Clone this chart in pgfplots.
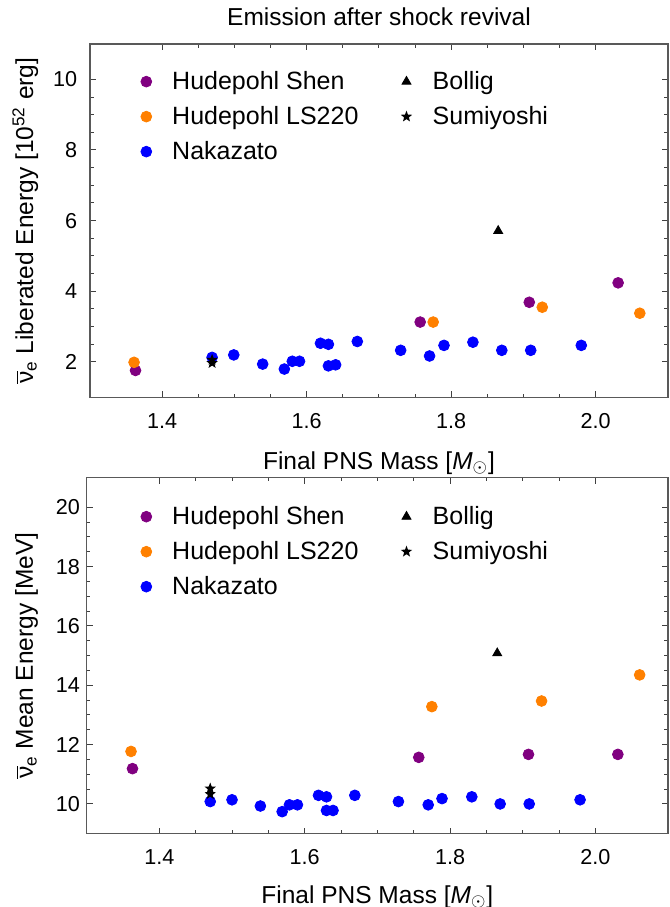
\documentclass[border=0pt]{standalone}
\usepackage{pgfplots}
\pgfplotsset{compat=1.18}
\usepackage{fontspec}
\setmainfont{Liberation Sans}

\definecolor{mmaPurple}{rgb}{0.5,0,0.5}
\definecolor{mmaOrange}{rgb}{1,0.5,0}
\definecolor{mmaBlue}{rgb}{0,0,1}

% filled five-pointed star
\pgfdeclareplotmark{fstar}{%
  \pgfpathmoveto{\pgfpointpolar{90}{\pgfplotmarksize}}%
  \pgfpathlineto{\pgfpointpolar{126}{0.42*\pgfplotmarksize}}%
  \pgfpathlineto{\pgfpointpolar{162}{\pgfplotmarksize}}%
  \pgfpathlineto{\pgfpointpolar{198}{0.42*\pgfplotmarksize}}%
  \pgfpathlineto{\pgfpointpolar{234}{\pgfplotmarksize}}%
  \pgfpathlineto{\pgfpointpolar{270}{0.42*\pgfplotmarksize}}%
  \pgfpathlineto{\pgfpointpolar{306}{\pgfplotmarksize}}%
  \pgfpathlineto{\pgfpointpolar{342}{0.42*\pgfplotmarksize}}%
  \pgfpathlineto{\pgfpointpolar{18}{\pgfplotmarksize}}%
  \pgfpathlineto{\pgfpointpolar{54}{0.42*\pgfplotmarksize}}%
  \pgfpathclose
  \pgfusepathqfill}

\pgfplotsset{
  panel/.style={
    scale only axis,
    xmin=1.3, xmax=2.1,
    xtick={1.4,1.6,1.8,2.0},
    xticklabels={1.4,1.6,1.8,2.0},
    minor x tick num=3, minor y tick num=3,
    tick align=inside,
    major tick length=3pt, minor tick length=1.8pt,
    every tick/.style={black!75, line width=0.5pt},
    axis line style={black!65, line width=0.75pt},
    /pgf/number format/assume math mode=true,
    tick label style={font=\fontsize{10.8}{12}\selectfont},
    xticklabel style={anchor=base, inner sep=0pt, yshift=-15.5pt},
    label style={font=\fontsize{12.25}{14}\selectfont},
    title style={font=\fontsize{12.25}{14}\selectfont},
    legend columns=2,
    legend image code/.code={\draw[##1] plot coordinates {(0pt,3.9pt)};},
    legend style={draw=none, fill=none, inner sep=0pt,
      font=\fontsize{12.5}{15}\selectfont,
      cells={anchor=base west},
      nodes={inner sep=0pt, text height=9pt, text depth=2.6pt},
      row sep=5.9pt,
      /tikz/every odd column/.style={column sep=10.25pt},
      /tikz/every even column/.style={column sep=21.15pt}},
    dot/.style={only marks, mark=*, mark size=2.7pt, mark options={draw=none}},
  },
}

\begin{document}
\begin{tikzpicture}
\useasboundingbox (0pt,0pt) rectangle (335pt,-453.5pt);

% ---------------- top panel ----------------
\begin{axis}[panel,
  at={(45pt,-22pt)}, anchor=north west,
  width=289pt, height=176.65pt,
  ymin=1, ymax=11, ytick={2,4,6,8,10},
  yticklabel style={anchor=east, inner sep=0pt, xshift=-6.25pt},
  title={Emission after shock revival},
  title style={at={(axis description cs:0.5,1)}, anchor=base, yshift=3.5pt},
  xlabel={Final PNS Mass [{\itshape M}\textsubscript{\(\odot\)}]},
  xlabel style={at={(axis description cs:0.5,-0.204)}, anchor=base},
  ylabel={\(\overline{\mbox{ν}}\)\textsubscript{e} Liberated Energy [10\textsuperscript{52} erg]},
  ylabel style={at={(axis description cs:-0.0986,0.5)}, anchor=base},
  legend style={at={(axis description cs:0.0874,0.9235)}, anchor=north west},
]
\addlegendimage{dot, mmaPurple}\addlegendentry{Hudepohl Shen}
\addlegendimage{only marks, mark=triangle*, mark size=2.6pt, black}\addlegendentry{Bollig}
\addlegendimage{dot, mmaOrange}\addlegendentry{Hudepohl LS220}
\addlegendimage{only marks, mark=fstar, mark size=3pt, black}\addlegendentry{Sumiyoshi}
\addlegendimage{dot, mmaBlue}\addlegendentry{Nakazato}

\addplot[dot, mmaPurple, forget plot] coordinates {
  (1.363,1.76) (1.757,3.13) (1.908,3.69) (2.031,4.24)};
\addplot[dot, mmaOrange, forget plot] coordinates {
  (1.361,1.99) (1.775,3.13) (1.926,3.55) (2.061,3.38)};
\addplot[only marks, mark=triangle*, mark size=2.6pt, black, forget plot] coordinates {
  (1.865,5.71)};
\addplot[dot, mmaBlue, forget plot] coordinates {
  (1.469,2.13) (1.499,2.20) (1.539,1.94) (1.569,1.80) (1.580,2.02) (1.590,2.02)
  (1.619,2.53) (1.630,2.50) (1.630,1.89) (1.640,1.92) (1.670,2.58) (1.730,2.33)
  (1.770,2.17) (1.790,2.47) (1.830,2.56) (1.870,2.33) (1.910,2.33) (1.980,2.47)};
\addplot[only marks, mark=fstar, mark size=3pt, black, forget plot] coordinates {
  (1.469,2.06) (1.469,1.97)};
\end{axis}

% ---------------- bottom panel ----------------
\begin{axis}[panel,
  at={(43.35pt,-238.8pt)}, anchor=north west,
  width=290.65pt, height=178pt,
  ymin=9, ymax=21, ytick={10,12,14,16,18,20},
  yticklabel style={anchor=east, inner sep=0pt, xshift=-3.25pt},
  xlabel={Final PNS Mass [{\itshape M}\textsubscript{\(\odot\)}]},
  xlabel style={at={(axis description cs:0.5,-0.195)}, anchor=base},
  ylabel={\(\overline{\mbox{ν}}\)\textsubscript{e} Mean Energy [MeV]},
  ylabel style={at={(axis description cs:-0.0924,0.5)}, anchor=base},
  legend style={at={(axis description cs:0.0926,0.920)}, anchor=north west},
]
\addlegendimage{dot, mmaPurple}\addlegendentry{Hudepohl Shen}
\addlegendimage{only marks, mark=triangle*, mark size=2.6pt, black}\addlegendentry{Bollig}
\addlegendimage{dot, mmaOrange}\addlegendentry{Hudepohl LS220}
\addlegendimage{only marks, mark=fstar, mark size=3pt, black}\addlegendentry{Sumiyoshi}
\addlegendimage{dot, mmaBlue}\addlegendentry{Nakazato}

\addplot[dot, mmaPurple, forget plot] coordinates {
  (1.363,11.19) (1.757,11.57) (1.908,11.67) (2.031,11.67)};
\addplot[dot, mmaOrange, forget plot] coordinates {
  (1.361,11.77) (1.775,13.28) (1.926,13.47) (2.061,14.35)};
\addplot[only marks, mark=triangle*, mark size=2.6pt, black, forget plot] coordinates {
  (1.865,15.08)};
\addplot[dot, mmaBlue, forget plot] coordinates {
  (1.470,10.08) (1.500,10.14) (1.539,9.93) (1.569,9.74) (1.579,9.97) (1.590,9.97)
  (1.619,10.29) (1.630,10.24) (1.630,9.78) (1.639,9.78) (1.669,10.29) (1.729,10.08)
  (1.770,9.97) (1.789,10.18) (1.830,10.24) (1.869,10.00) (1.909,10.00) (1.979,10.14)};
\addplot[only marks, mark=fstar, mark size=3pt, black, forget plot] coordinates {
  (1.470,10.52) (1.470,10.33)};
\end{axis}
\end{tikzpicture}
\end{document}
